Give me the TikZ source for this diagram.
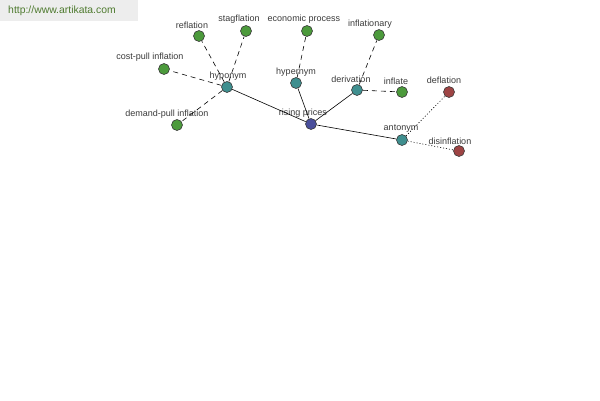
\documentclass[tikz,border=0pt]{standalone}
\usepackage{fontspec}
\setmainfont{Liberation Sans}
\usetikzlibrary{positioning}
\definecolor{ink}{HTML}{3A3A3A}
\definecolor{hub}{HTML}{4A4F9C}
\definecolor{rel}{HTML}{3F8F8F}
\definecolor{leaf}{HTML}{4C9A3C}
\definecolor{anti}{HTML}{9E4444}
\definecolor{wmbg}{HTML}{EDEDED}
\definecolor{wmtx}{HTML}{4E7A2E}
\tikzset{
  wn/.style={circle, draw=ink, line width=0.6pt, minimum size=11pt, inner sep=0pt},
  hubn/.style={wn, fill=hub},
  reln/.style={wn, fill=rel},
  leafn/.style={wn, fill=leaf},
  antin/.style={wn, fill=anti},
  lbl/.style={font=\fontsize{9}{10}\selectfont, text=ink, inner sep=0pt},
  link/.style={draw=black, line width=0.6pt},
  dlink/.style={link, dash pattern=on 5pt off 4pt},
  olink/.style={link, dash pattern=on 1pt off 2pt},
}

\begin{document}
\begin{tikzpicture}[x=1pt, y=-1pt]
  \useasboundingbox (0,0) rectangle (600,400);
  \fill[wmbg] (0,0) rectangle (138,21);
  \node[font=\fontsize{10.4}{11}\selectfont, text=wmtx, inner sep=0pt] (wm) at (62,11) {http://www.artikata.com};

  % word nodes
  \node[hubn]  (rise)    at (311,124) {};
  \node[reln]  (hypo)    at (227,87)  {};
  \node[reln]  (hyper)   at (296,83)  {};
  \node[reln]  (deriv)   at (357,90)  {};
  \node[reln]  (anto)    at (402,140) {};
  \node[leafn] (refl)    at (199,36)  {};
  \node[leafn] (stag)    at (246,31)  {};
  \node[leafn] (cost)    at (164,69)  {};
  \node[leafn] (demand)  at (177,125) {};
  \node[leafn] (econ)    at (307,31)  {};
  \node[leafn] (infl)    at (379,35)  {};
  \node[leafn] (inflate) at (402,92)  {};
  \node[antin] (defl)    at (449,92)  {};
  \node[antin] (disinfl) at (459,151) {};

  % labels
  \node[lbl] (t-rise)    at (303,113) {rising prices};
  \node[lbl] (t-hypo)    at (228,76)  {hyponym};
  \node[lbl] (t-hyper)   at (296,72)  {hypernym};
  \node[lbl] (t-deriv)   at (351,79)  {derivation};
  \node[lbl] (t-anto)    at (401,129) {antonym};
  \node[lbl] (t-refl)    at (192,25)  {reflation};
  \node[lbl] (t-stag)    at (239,19)  {stagflation};
  \node[lbl] (t-cost)    at (150,57)  {cost-pull inflation};
  \node[lbl] (t-demand)  at (167,114) {demand-pull inflation};
  \node[lbl] (t-econ)    at (304,19)  {economic process};
  \node[lbl] (t-infl)    at (370,24)  {inflationary};
  \node[lbl] (t-inflate) at (396,81)  {inflate};
  \node[lbl] (t-defl)    at (444,80)  {deflation};
  \node[lbl] (t-disinfl) at (450,141) {disinflation};

  \draw[link] (rise) -- (hypo);
  \draw[link] (rise) -- (hyper);
  \draw[link] (rise) -- (deriv);
  \draw[link] (rise) -- (anto);
  \foreach \n in {refl, stag, cost, demand}
    \draw[dlink] (hypo) -- (\n);
  \draw[dlink] (hyper) -- (econ);
  \draw[dlink] (deriv) -- (infl);
  \draw[dlink] (deriv) -- (inflate);
  \draw[olink] (anto) -- (defl);
  \draw[olink] (anto) -- (disinfl);
\end{tikzpicture}
\end{document}
